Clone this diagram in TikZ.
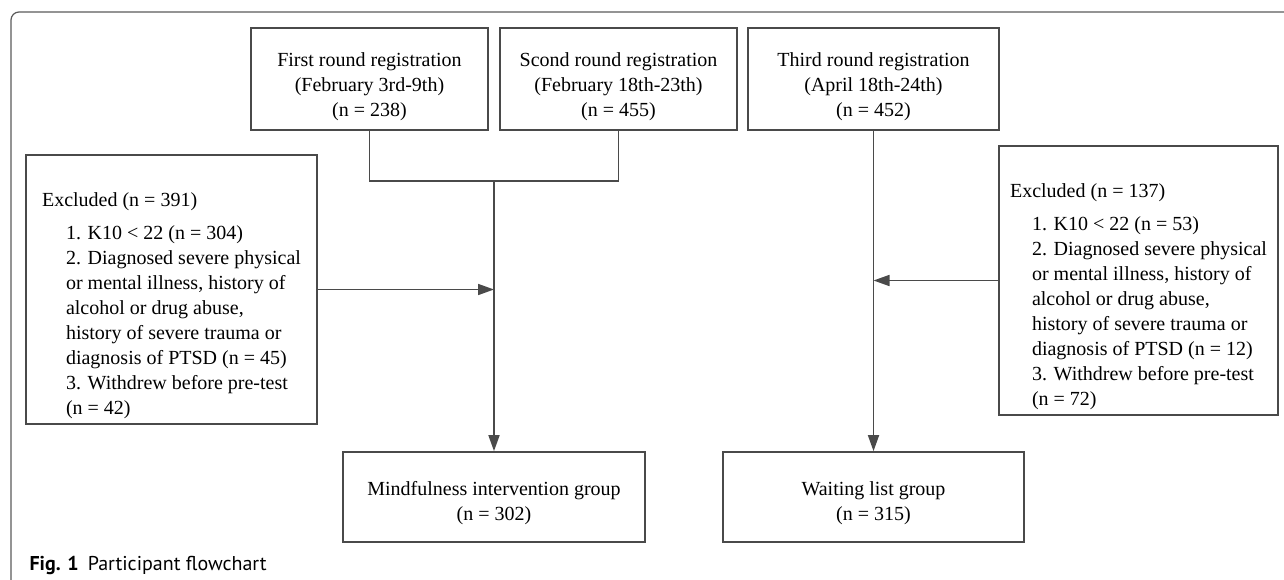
\documentclass[tikz,border=0pt]{standalone}
\usepackage{fontspec}
\setmainfont{Liberation Serif}
\newfontfamily\capfont{PT Sans}
\usetikzlibrary{arrows.meta}
\definecolor{linegray}{HTML}{4A4A4A}
\definecolor{framegray}{HTML}{5A5A5A}
\newcommand{\ind}[1][24pt]{\hspace*{#1}}

\begin{document}
\begin{tikzpicture}
[x=1pt, y=-1pt,
>={Triangle[length=16pt,width=11pt]},
flowbox/.style={draw=linegray, line width=1.7pt, align=center, inner sep=0pt,
  font=\fontsize{20}{25}\selectfont},
exbox/.style={flowbox, align=left, minimum height=269pt},
conn/.style={draw=linegray, line width=1.7pt}]
  \useasboundingbox (0,0) rectangle (1284,580);
  \draw [framegray, line width=1.2pt, rounded corners=8pt] (11,580) -- (11,12) -- (1284,12);
  % registration rounds
  \node [flowbox, minimum width=237pt, minimum height=102pt] (first) at (369.5,79)
    {\rule{0pt}{30pt}First round registration\\(February 3rd-9th)\\(n = 238)};
  \node [flowbox, minimum width=237pt, minimum height=102pt] (second) at (618.5,79)
    {\rule{0pt}{30pt}Scond round registration\\(February 18th-23th)\\(n = 455)};
  \node [flowbox, minimum width=251pt, minimum height=102pt] (third) at (873.5,79)
    {\rule{0pt}{30pt}Third round registration\\(April 18th-24th)\\(n = 452)};
  % exclusions
  \node [exbox, minimum width=291pt] (exclA) at (171.5,289.5)
    {\rule{0pt}{46pt}Excluded (n = 391)\\[8pt]
     \ind 1. K10 < 22 (n = 304)\\
     \ind 2. Diagnosed severe physical\\
     \ind or mental illness, history of\\
     \ind alcohol or drug abuse,\\
     \ind history of severe trauma or\\
     \ind diagnosis of PTSD (n = 45)\\
     \ind 3. Withdrew before pre-test\\
     \ind (n = 42)};
  \node [exbox, minimum width=279pt] (exclB) at (1138.5,280.5)
    {\rule{0pt}{46pt}Excluded (n = 137)\\[8pt]
     \ind[17pt] 1. K10 < 22 (n = 53)\\
     \ind[17pt] 2. Diagnosed severe physical\\
     \ind[17pt] or mental illness, history of\\
     \ind[17pt] alcohol or drug abuse,\\
     \ind[17pt] history of severe trauma or\\
     \ind[17pt] diagnosis of PTSD (n = 12)\\
     \ind[17pt] 3. Withdrew before pre-test\\
     \ind[17pt] (n = 72)};
  % groups
  \node [flowbox, minimum width=302pt, minimum height=90pt] (mind) at (494,497)
    {\rule{0pt}{26pt}Mindfulness intervention group\\(n = 302)};
  \node [flowbox, minimum width=301pt, minimum height=90pt] (wait) at (873.5,497)
    {\rule{0pt}{26pt}Waiting list group\\(n = 315)};
  \node [anchor=base west, font=\capfont\fontsize{20}{24}\selectfont] (caption) at (26,570)
    {\textbf{Fig. 1}\hspace{9pt}Participant flowchart};
  % connectors
  \coordinate (join) at (494,181);
  \draw [conn] (first.south) |- (join) -| (second.south);
  \draw [conn, ->] (join) -- (mind.north);
  \draw [conn, ->] (exclA.east) -- (exclA.east -| join);
  \draw [conn, ->] (third.south) -- (wait.north);
  \draw [conn, ->] (exclB.west) -- (exclB.west -| third.south);
\end{tikzpicture}
\end{document}
